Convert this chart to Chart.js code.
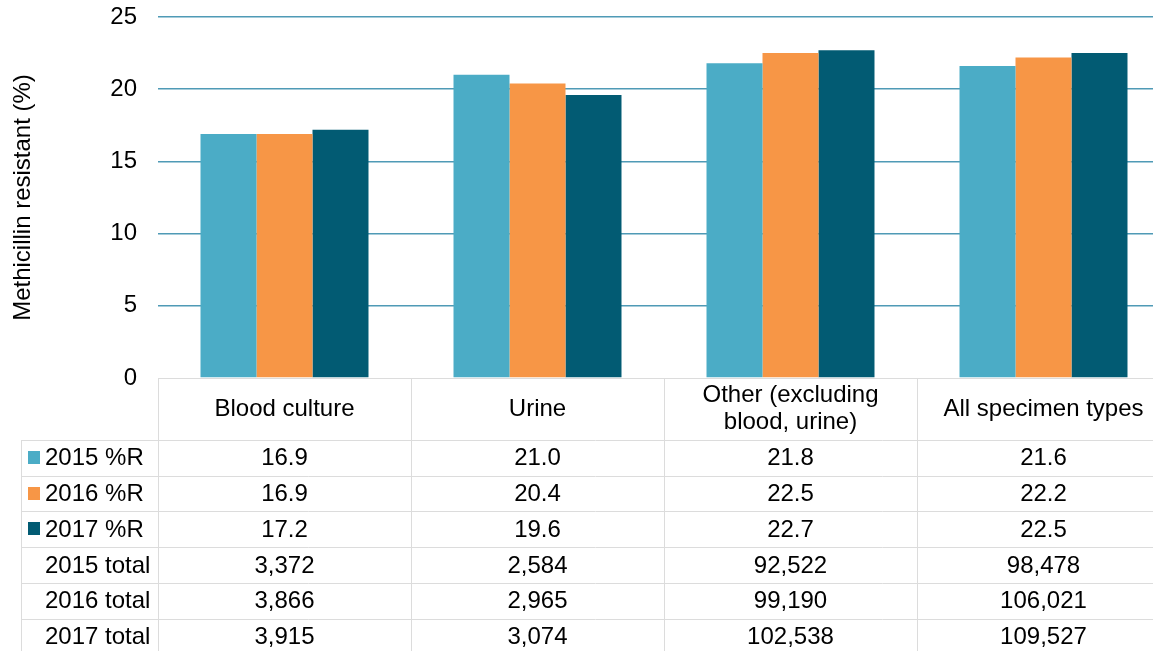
<!DOCTYPE html>
<html>
<head>
<meta charset="utf-8">
<script src="https://cdn.jsdelivr.net/npm/chart.js@4.4.1/dist/chart.umd.min.js"></script>
<style>
  html, body { margin: 0; padding: 0; background: #fff; overflow: hidden; }
  #wrap { width: 1153px; height: 651px; overflow: hidden; }
</style>
</head>
<body>
<div id="wrap"><canvas id="graficoMrsa" width="1172" height="651"></canvas></div>
<script>
const categorias = ["Blood culture", "Urine", ["Other (excluding", "blood, urine)"], "All specimen types"];
const pct2015 = [16.9, 21.0, 21.8, 21.6];
const pct2016 = [16.9, 20.4, 22.5, 22.2];
const pct2017 = [17.2, 19.6, 22.7, 22.5];
const total2015 = [3372, 2584, 92522, 98478];
const total2016 = [3866, 2965, 99190, 106021];
const total2017 = [3915, 3074, 102538, 109527];
const yTicks = [0, 5, 10, 15, 20, 25];

const cores = ["#4bacc6", "#f79646", "#025b73"];
const fonte = "Liberation Sans, Arial, sans-serif";
const tamFonte = 24;

// linhas da tabela de dados (como no Excel)
const linhasTabela = [
  { label: "2015 %R", valores: pct2015, cor: cores[0], fmt: (v) => v.toFixed(1) },
  { label: "2016 %R", valores: pct2016, cor: cores[1], fmt: (v) => v.toFixed(1) },
  { label: "2017 %R", valores: pct2017, cor: cores[2], fmt: (v) => v.toFixed(1) },
  { label: "2015 total", valores: total2015, fmt: (v) => v.toLocaleString("en-US") },
  { label: "2016 total", valores: total2016, fmt: (v) => v.toLocaleString("en-US") },
  { label: "2017 total", valores: total2017, fmt: (v) => v.toLocaleString("en-US") },
];

const tabelaPlugin = {
  id: "tabelaDados",
  afterDraw(chart) {
    const ctx = chart.ctx;
    const area = chart.chartArea;
    const x = chart.scales.x;
    const n = categorias.length;
    const larg = (area.right - area.left) / n;
    const topo = area.bottom;
    const cabecalho = 62;
    const alturaLinha = 35.7;
    const esq = 21;
    const fim = chart.height;

    ctx.save();
    ctx.strokeStyle = "#dcdcdc";
    ctx.lineWidth = 1;
    ctx.beginPath();
    // topo da tabela
    ctx.moveTo(area.left, topo + 0.5);
    ctx.lineTo(area.right, topo + 0.5);
    // divisões das colunas
    for (let i = 0; i <= n; i++) {
      const xx = Math.round(area.left + i * larg) + 0.5;
      ctx.moveTo(xx, topo);
      ctx.lineTo(xx, fim);
    }
    ctx.moveTo(esq + 0.5, topo + cabecalho);
    ctx.lineTo(esq + 0.5, fim);
    // divisões das linhas
    for (let r = 0; r < linhasTabela.length; r++) {
      const yy = Math.round(topo + cabecalho + r * alturaLinha) + 0.5;
      ctx.moveTo(esq, yy);
      ctx.lineTo(area.right, yy);
    }
    ctx.stroke();

    ctx.fillStyle = "#000";
    ctx.font = tamFonte + "px " + fonte;
    ctx.textBaseline = "middle";

    // cabeçalho com as categorias
    ctx.textAlign = "center";
    categorias.forEach((cat, i) => {
      const cx = x.getPixelForValue(i);
      const partes = Array.isArray(cat) ? cat : [cat];
      const meio = topo + 31;
      partes.forEach((p, k) => {
        const yy = meio + (k - (partes.length - 1) / 2) * 27.5;
        ctx.fillText(p, cx, yy);
      });
    });

    // linhas de valores
    linhasTabela.forEach((linha, r) => {
      const cy = topo + cabecalho + r * alturaLinha + alturaLinha / 2;
      if (linha.cor) {
        ctx.fillStyle = linha.cor;
        ctx.fillRect(28, Math.round(cy - 7), 12, 13);
      }
      ctx.fillStyle = "#000";
      ctx.textAlign = "left";
      ctx.fillText(linha.label, 45, cy + 1);
      ctx.textAlign = "center";
      linha.valores.forEach((v, i) => {
        ctx.fillText(linha.fmt(v), x.getPixelForValue(i), cy + 1);
      });
    });
    ctx.restore();
  },
};

new Chart(document.getElementById("graficoMrsa"), {
  type: "bar",
  data: {
    labels: categorias,
    datasets: [
      { label: "2015 %R", data: pct2015, backgroundColor: cores[0] },
      { label: "2016 %R", data: pct2016, backgroundColor: cores[1] },
      { label: "2017 %R", data: pct2017, backgroundColor: cores[2] },
    ],
  },
  options: {
    responsive: false,
    animation: false,
    devicePixelRatio: 1,
    layout: { padding: { top: 17, right: 2, bottom: 273, left: 0 } },
    datasets: { bar: { categoryPercentage: 0.664, barPercentage: 1, borderWidth: 0 } },
    plugins: { legend: { display: false }, tooltip: { enabled: false } },
    scales: {
      x: {
        ticks: { display: false },
        grid: { display: false },
        border: { display: false },
        afterFit: (s) => { s.height = 0; s.paddingLeft = 0; s.paddingRight = 0; },
      },
      y: {
        min: 0,
        max: 25,
        afterBuildTicks: (s) => { s.ticks = yTicks.map((v) => ({ value: v })); },
        ticks: { font: { family: fonte, size: tamFonte }, color: "#000", padding: 21 },
        grid: {
          color: (c) => (c.tick && c.tick.value === 0 ? "rgba(0,0,0,0)" : "#4f9ab6"),
          lineWidth: 1.5,
          drawTicks: false,
        },
        border: { display: false },
        title: {
          display: true,
          text: "Methicillin resistant (%)",
          font: { family: fonte, size: tamFonte },
          color: "#000",
          padding: { top: 9, bottom: 0 },
        },
        afterFit: (s) => { s.width = 158; s.paddingTop = 0; s.paddingBottom = 0; },
      },
    },
  },
  plugins: [tabelaPlugin],
});
</script>
</body>
</html>
